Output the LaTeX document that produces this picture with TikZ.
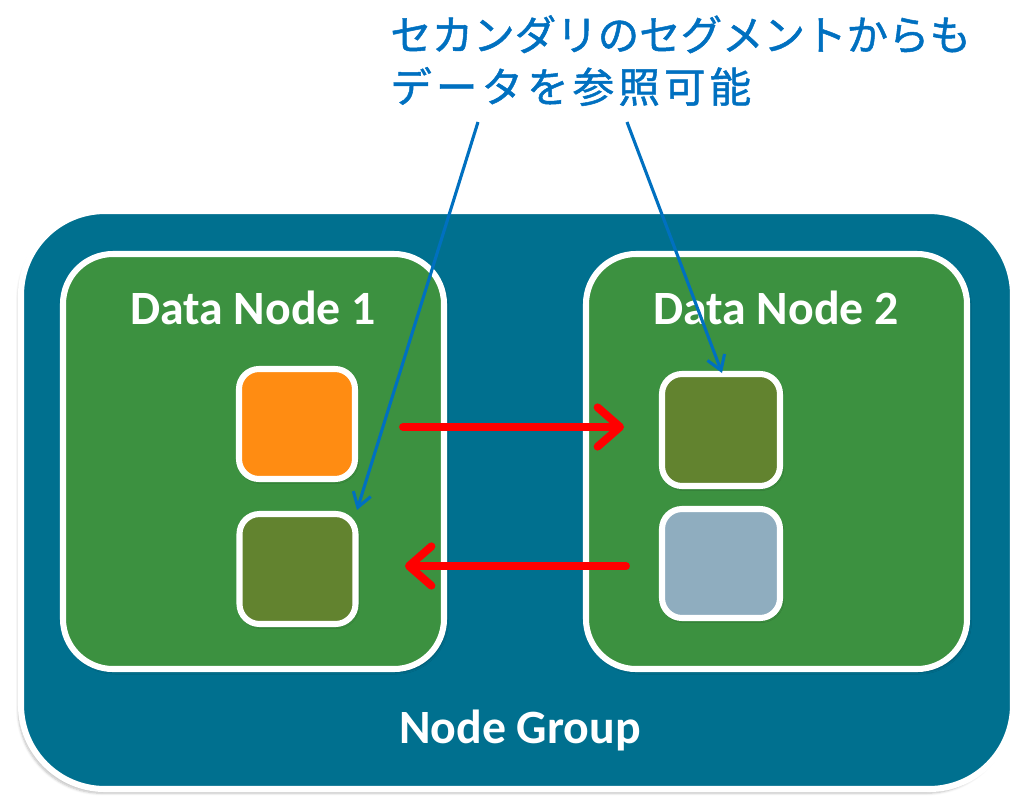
\documentclass[tikz,border=0pt]{standalone}
\usepackage{fontspec}
\newfontfamily\labelfont{Carlito}
\newfontfamily\jpfont[FakeBold=1.2]{Noto Sans CJK JP}
\newfontfamily\jpwidefont[FakeBold=1.2,LetterSpace=10]{Noto Sans CJK JP}
\usetikzlibrary{arrows.meta,shadows.blur}
\definecolor{groupblue}{RGB}{0,112,143}
\definecolor{nodegreen}{RGB}{60,145,64}
\definecolor{segorange}{RGB}{255,140,18}
\definecolor{segolive}{RGB}{98,131,47}
\definecolor{seggray}{RGB}{143,173,191}
\definecolor{notecolor}{RGB}{0,112,192}
\definecolor{flowred}{RGB}{255,0,0}
\tikzset{
  groupbox/.style={draw=white, line width=4.3pt, fill=groupblue, rounded corners=2.1cm,
    inner sep=0pt, blur shadow={shadow xshift=-2pt, shadow yshift=-3pt, shadow opacity=25, shadow blur steps=6}},
  datanode/.style={draw=white, line width=4.3pt, fill=nodegreen, rounded corners=1.25cm,
    inner sep=0pt, minimum width=381*0.025cm, minimum height=415*0.025cm,
    blur shadow={shadow xshift=1.5pt, shadow yshift=-2pt, shadow opacity=30, shadow blur steps=5}},
  segment/.style={draw=white, line width=4.3pt, rounded corners=0.5cm, inner sep=0pt,
    blur shadow={shadow xshift=1pt, shadow yshift=-1.5pt, shadow opacity=30, shadow blur steps=4}},
  boxtitle/.style={text=white, font=\labelfont\bfseries\fontsize{34}{40}\selectfont},
  flow/.style={draw=flowred, line width=5.6pt, line cap=round,
    -{Straight Barb[length=16pt, width=28pt, line width=5.6pt, round]}},
  note/.style={draw=notecolor, line width=2.2pt,
    -{Straight Barb[length=10pt, width=13pt, line width=2.2pt]}}
}
\begin{document}
\begin{tikzpicture}[x=0.025cm, y=-0.025cm]
  \useasboundingbox (0,0) rectangle (1018,797);

  % node group
  \node[groupbox, minimum width=992*0.025cm, minimum height=578*0.025cm] (group) at (517,500) {};
  \node[boxtitle] (grouplabel) at (520,730) {Node Group};

  % data nodes
  \node[datanode] (dn1) at (253.5,461.5) {};
  \node[datanode] (dn2) at (776.5,461.5) {};
  \node[boxtitle] (dn1label) at (253,308) {Data Node 1};
  \node[boxtitle] (dn2label) at (776,308) {Data Node 2};

  % segments
  \node[segment, fill=segorange, minimum width=116*0.025cm, minimum height=110*0.025cm] (s1p) at (297,424) {};
  \node[segment, fill=segolive, minimum width=116*0.025cm, minimum height=110*0.025cm] (s1s) at (297.5,569) {};
  \node[segment, fill=segolive, minimum width=118*0.025cm, minimum height=112*0.025cm] (s2s) at (721,430) {};
  \node[segment, fill=seggray, minimum width=118*0.025cm, minimum height=109*0.025cm] (s2p) at (721,563.5) {};

  % replication flows
  \coordinate (f1a) at (403,427);
  \coordinate (f1b) at (624,427);
  \coordinate (f2a) at (626,566);
  \coordinate (f2b) at (405,566);
  \draw[flow] (f1a) -- (f1b);
  \draw[flow] (f2a) -- (f2b);

  % note
  \node[anchor=north west, align=left, text=notecolor, inner sep=0pt,
        font=\jpfont\fontsize{29.5}{37}\selectfont] (note) at (390,15)
    {セカンダリのセグメントからも\\{\jpwidefont データを参照可能}};
  \coordinate (n1) at (478,122);
  \coordinate (n2) at (627,122);
  \coordinate (t1) at (357,510);
  \coordinate (t2) at (722,373);
  \draw[note] (n1) -- (t1);
  \draw[note] (n2) -- (t2);
\end{tikzpicture}
\end{document}
